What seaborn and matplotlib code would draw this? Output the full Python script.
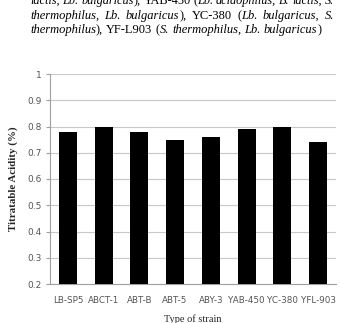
import matplotlib
matplotlib.use("Agg")
import matplotlib.pyplot as plt
import seaborn as sns
import pandas as pd

# 데이터
strains = ["LB-SP5", "ABCT-1", "ABT-B", "ABT-5", "ABY-3", "YAB-450", "YC-380", "YFL-903"]
acidity = [0.78, 0.80, 0.78, 0.75, 0.76, 0.79, 0.80, 0.74]
y_ticks = [0.2, 0.3, 0.4, 0.5, 0.6, 0.7, 0.8, 0.9, 1.0]
y_tick_labels = ["0.2", "0.3", "0.4", "0.5", "0.6", "0.7", "0.8", "0.9", "1"]

# 캡션 (단어 단위, (텍스트, 이탤릭 여부))
caption_lines = [
    [[("lactis,", True)], [("Lb.", True)], [("bulgaricus", True), ("),", False)],
     [("YAB-450", False)], [("(", False), ("Lb.", True)], [("acidophilus,", True)],
     [("B.", True)], [("lactis,", True)], [("S.", True)]],
    [[("thermophilus,", True)], [("Lb.", True)], [("bulgaricus", True), ("),", False)],
     [("YC-380", False)], [("(", False), ("Lb.", True)], [("bulgaricus,", True)], [("S.", True)]],
    [[("thermophilus", True), ("),", False)], [("YF-L903", False)], [("(", False), ("S.", True)],
     [("thermophilus,", True)], [("Lb.", True)], [("bulgaricus", True), (")", False)]],
]

W, H = 340, 323
sns.set_style("white")
plt.rcParams["font.family"] = ["DejaVu Sans"]

fig = plt.figure(figsize=(W / 100, H / 100), dpi=100)
ax = fig.add_axes([50 / W, (H - 284) / H, 286 / W, 210 / H])

df = pd.DataFrame({"strain": strains, "acidity": acidity})
sns.barplot(data=df, x="strain", y="acidity", color="black", width=0.5,
            edgecolor="black", linewidth=0, ax=ax, zorder=3)

ax.set_ylim(0.2, 1.0)
ax.set_yticks(y_ticks)
ax.set_yticklabels(y_tick_labels)
ax.yaxis.grid(True, color="#c8c8c8", linewidth=0.8, zorder=0)
ax.xaxis.grid(False)
for s in ["top", "right"]:
    ax.spines[s].set_visible(False)
for s in ["left", "bottom"]:
    ax.spines[s].set_color("#a0a0a0")
    ax.spines[s].set_linewidth(0.8)
ax.tick_params(axis="y", left=True, length=3, color="#a0a0a0", labelsize=6.5,
               labelcolor="#555555", pad=3)
ax.tick_params(axis="x", bottom=False, labelsize=6.3, labelcolor="#555555", pad=5)
ax.set_xlabel("Type of strain", family="Liberation Serif", fontsize=7.5, labelpad=7)
ax.set_ylabel("Titratable Acidity (%)", family="Liberation Serif", fontsize=7.8,
              fontweight="bold", labelpad=7)

# 캡션 배치 (양쪽 정렬)
renderer = fig.canvas.get_renderer()
x_left, x_right = 30, 334
line_y = [1, 16, 30]


def measure(words, fs):
    widths = []
    for w in words:
        tw = 0
        for txt, it in w:
            t = fig.text(0, 0, txt, family="Liberation Serif", fontsize=fs,
                         style="italic" if it else "normal")
            tw += t.get_window_extent(renderer).width
            t.remove()
        widths.append(tw)
    sp = fig.text(0, 0, "a a", family="Liberation Serif", fontsize=fs)
    spa = fig.text(0, 0, "aa", family="Liberation Serif", fontsize=fs)
    space_w = sp.get_window_extent(renderer).width - spa.get_window_extent(renderer).width
    sp.remove()
    spa.remove()
    return widths, space_w


for li, words in enumerate(caption_lines):
    justify = li < len(caption_lines) - 1
    fs = 9.0
    widths, space_w = measure(words, fs)
    # 한 줄에 안 들어가면 글자 크기 축소
    while sum(widths) + 0.7 * space_w * (len(words) - 1) > x_right - x_left:
        fs -= 0.1
        widths, space_w = measure(words, fs)
    if justify:
        gap = (x_right - x_left - sum(widths)) / (len(words) - 1)
    else:
        gap = space_w
    x = x_left
    for w, ww in zip(words, widths):
        xx = x
        for txt, it in w:
            t = fig.text(xx / W, 1 - line_y[li] / H, txt, family="Liberation Serif",
                         fontsize=fs, style="italic" if it else "normal",
                         va="center", ha="left", color="black")
            xx += t.get_window_extent(renderer).width
        x += ww + gap

fig.savefig("out.png", dpi=100)
